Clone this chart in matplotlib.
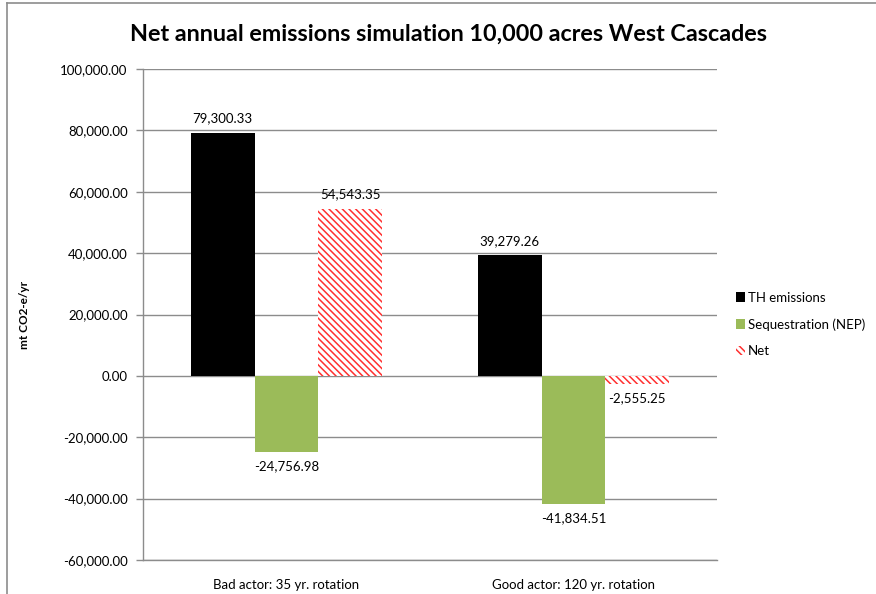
import numpy as np
import matplotlib
matplotlib.use('Agg')
from matplotlib import pyplot as plt
from matplotlib.lines import Line2D
from matplotlib.ticker import FuncFormatter, MultipleLocator

categories = ['Bad actor: 35 yr. rotation', 'Good actor: 120 yr. rotation']
th_emissions = [79300.33, 39279.26]
sequestration = [-24756.98, -41834.51]
net = [54543.35, -2555.25]

plt.rcParams['font.family'] = ['Lato', 'DejaVu Sans']
plt.rcParams['hatch.linewidth'] = 1.1

fig = plt.figure(figsize=(8.76, 5.94), dpi=100)
ax = fig.add_axes([0.1632, 0.0572, 0.6553, 0.8266])

# outer chart frame (left and top edges)
frame = dict(transform=fig.transFigure, color='#8c8c8c', lw=1.2)
fig.lines.append(Line2D([7 / 876, 7 / 876], [0, 1 - 3 / 594], **frame))
fig.lines.append(Line2D([7 / 876, 1], [1 - 3 / 594, 1 - 3 / 594], **frame))

x = np.arange(len(categories))
w = 0.222

b1 = ax.bar(x - w, th_emissions, w, color='black', label='TH emissions', zorder=3)
b2 = ax.bar(x, sequestration, w, color='#9bbb59', label='Sequestration (NEP)', zorder=3)
b3 = ax.bar(x + w, net, w, color='white', edgecolor='#ff3030', hatch='\\\\\\\\\\', lw=0,
            label='Net', zorder=3)

for bars in (b1, b2, b3):
    for bar in bars:
        v = bar.get_height()
        xc = bar.get_x() + bar.get_width() / 2
        if v >= 0:
            ax.annotate(f'{v:,.2f}', (xc, v), xytext=(0, 6), textcoords='offset points',
                        ha='center', va='bottom', fontsize=9.5)
        else:
            ax.annotate(f'{v:,.2f}', (xc, v), xytext=(0, -6), textcoords='offset points',
                        ha='center', va='top', fontsize=9.5)

ax.set_xlim(-0.5, 1.5)
ax.set_ylim(-60000, 100000)
ax.yaxis.set_major_locator(MultipleLocator(20000))
ax.yaxis.set_major_formatter(FuncFormatter(lambda v, p: f'{v:,.2f}'))
ax.grid(axis='y', color='#8c8c8c', lw=1.0, zorder=0)
ax.set_xticks(x)
ax.set_xticklabels(categories, fontsize=9.5)
ax.tick_params(axis='x', length=0, pad=14)
ax.tick_params(axis='y', length=5, color='#8c8c8c', width=1.0, labelsize=9.5, pad=6)
for s in ('top', 'right'):
    ax.spines[s].set_visible(False)
for s in ('left', 'bottom'):
    ax.spines[s].set_color('#8c8c8c')
    ax.spines[s].set_linewidth(1.0)

ax.set_ylabel('mt CO2-e/yr', fontsize=8.5, fontweight='bold', labelpad=22)
fig.text(0.512, 0.943, 'Net annual emissions simulation 10,000 acres West Cascades',
         ha='center', va='center', fontsize=16.8, fontweight='bold')

ax.legend(loc='center left', bbox_to_anchor=(1.012, 0.48), frameon=False, fontsize=9.5,
          handlelength=0.7, handleheight=0.7, handletextpad=0.2, labelspacing=1.1)

fig.savefig('out.png', dpi=100)
